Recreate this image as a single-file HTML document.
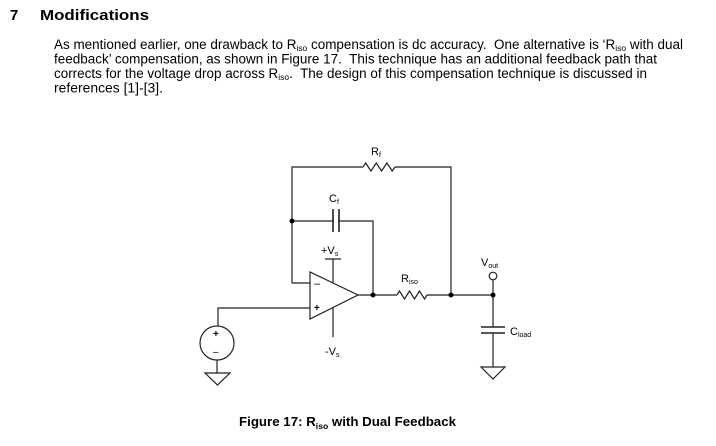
<!DOCTYPE html>
<html><head><style>
body{margin:0;width:716px;height:441px;background:#fff;overflow:hidden;font-family:"Liberation Sans",Arial,sans-serif;}
</style></head><body>
<svg width="716" height="441" viewBox="0 0 716 441" xmlns="http://www.w3.org/2000/svg" font-family="Liberation Sans, Arial, sans-serif">
<g fill="#000">
<text x="10" y="20" font-size="15" font-weight="bold">7</text>
<text x="40" y="20" font-size="15" font-weight="bold" textLength="109" lengthAdjust="spacingAndGlyphs">Modifications</text>
<g font-size="13.5">
<text x="54" y="49" textLength="629" lengthAdjust="spacingAndGlyphs" xml:space="preserve">As mentioned earlier, one drawback to R<tspan font-size="8.5" dy="2">iso</tspan><tspan dy="-2"> compensation is dc accuracy.  One alternative is ‘R</tspan><tspan font-size="8.5" dy="2">iso</tspan><tspan dy="-2"> with dual</tspan></text>
<text x="54" y="63.5" textLength="603" lengthAdjust="spacingAndGlyphs" xml:space="preserve">feedback’ compensation, as shown in Figure 17.  This technique has an additional feedback path that</text>
<text x="54" y="78" textLength="593" lengthAdjust="spacingAndGlyphs" xml:space="preserve">corrects for the voltage drop across R<tspan font-size="8.5" dy="2">iso</tspan><tspan dy="-2">.  The design of this compensation technique is discussed in</tspan></text>
<text x="54" y="92.5" textLength="109" lengthAdjust="spacingAndGlyphs">references [1]-[3].</text>
</g>
<text x="239" y="426" font-size="13.2" font-weight="bold" textLength="217" lengthAdjust="spacingAndGlyphs">Figure 17: R<tspan font-size="8.5" dy="3">iso</tspan><tspan dy="-3"> with Dual Feedback</tspan></text>
<g font-size="11">
<text x="371" y="155">R<tspan font-size="7" dy="2">f</tspan></text>
<text x="329" y="202">C<tspan font-size="7" dy="2">f</tspan></text>
<text x="321" y="254">+V<tspan font-size="7" dy="2">s</tspan></text>
<text x="325" y="355">-V<tspan font-size="7" dy="2">s</tspan></text>
<text x="401" y="282">R<tspan font-size="7" dy="2">iso</tspan></text>
<text x="481" y="266">V<tspan font-size="7" dy="2">out</tspan></text>
<text x="510" y="335">C<tspan font-size="7" dy="2">load</tspan></text>
</g>
</g>
<g fill="none" stroke="#222" stroke-width="1.2">
<path d="M292,283 V167 H363 M395,167 H451 V295"/>
<polyline points="363,167 365.7,163 371,171 376.3,163 381.6,171 386.9,163 392.2,171 395,167"/>
<path d="M292,221 H333 M339,221 H373 V295"/>
<path d="M333,209 V232 M339,209 V232" stroke-width="1.6"/>
<polygon points="310,272 310,319 358,295"/>
<path d="M292,283 H310 M218,326 V308 H310 M358,295 H397 M427,295 H493"/>
<polyline points="397,295 399.5,291 404.5,299 409.5,291 414.5,299 419.5,291 424.5,299 427,295"/>
<path d="M333,259 V283 M325,259 H341 M333,307 V337"/>
<circle cx="217" cy="343" r="17"/>
<path d="M217,360 V373 M205,373 H230 L217.5,385 Z"/>
<circle cx="493" cy="276" r="3.8"/>
<path d="M493,280 V327 M493,333 V367 M481,367 H505 L493,379 Z"/>
<path d="M481,327 H505 M481,333 H505" stroke-width="1.6"/>
</g>
<g fill="#000">
<circle cx="292" cy="221" r="2.5"/><circle cx="373" cy="295" r="2.5"/><circle cx="451" cy="295" r="2.5"/><circle cx="493" cy="295" r="2.5"/>
<text x="314" y="287" font-size="11">–</text>
<text x="314" y="311" font-size="10" font-weight="bold">+</text>
<text x="213" y="337" font-size="10" font-weight="bold">+</text>
<text x="213" y="355" font-size="10">–</text>
</g>
</svg>
</body></html>
